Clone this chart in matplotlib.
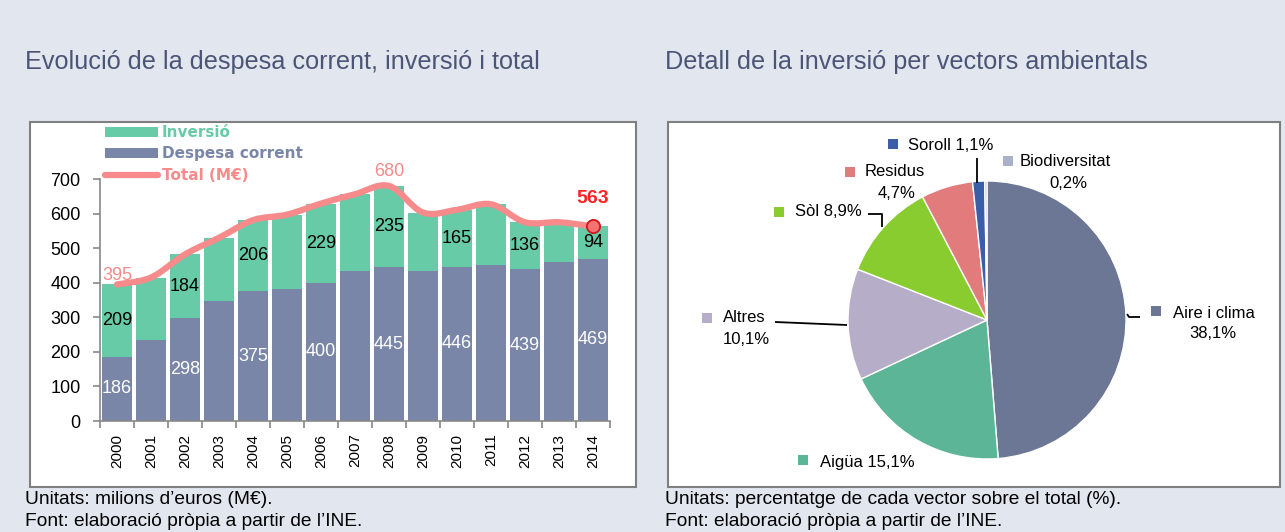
import matplotlib
matplotlib.use("Agg")
import matplotlib.pyplot as plt
from matplotlib.patches import Rectangle, Patch
from matplotlib.lines import Line2D
from matplotlib.path import Path
from matplotlib.patches import PathPatch
import numpy as np

# ---------------- data ----------------
years = ["2000", "2001", "2002", "2003", "2004", "2005", "2006", "2007",
         "2008", "2009", "2010", "2011", "2012", "2013", "2014"]
despesa = [186, 234, 298, 348, 375, 381, 400, 433, 445, 433, 446, 450, 439, 461, 469]
inversio = [209, 181, 184, 182, 206, 216, 229, 223, 235, 170, 165, 177, 136, 114, 94]
total = [395, 415, 482, 530, 581, 597, 629, 656, 680, 603, 611, 627, 575, 575, 563]
label_idx = [0, 2, 4, 6, 8, 10, 12, 14]  # bars with value labels

pie_labels = ["Aire i clima", "Aigüa", "Altres", "Sòl", "Residus", "Soroll", "Biodiversitat"]
pie_values = [38.1, 15.1, 10.1, 8.9, 4.7, 1.1, 0.2]
pie_colors = ["#6c7695", "#5cb597", "#b6aec8", "#89cc2f", "#e27b7b", "#3b5ea9", "#aab0c8"]

# ---------------- style ----------------
W, H = 1285, 532
BG = "#e2e6ef"
TITLE_C = "#4b5576"
C_INV = "#67cba8"
C_DES = "#7a86a8"
C_TOT = "#f78a8a"
FONT = ["Liberation Sans", "DejaVu Sans"]
plt.rcParams["font.family"] = FONT

fig = plt.figure(figsize=(W / 100, H / 100), dpi=100, facecolor=BG)


def fx(px):
    return px / W


def fy(py):
    return 1 - py / H


# white panels
for (x0, x1) in [(30, 636), (668, 1280)]:
    fig.patches.append(Rectangle((fx(x0), fy(487)), fx(x1 - x0), (487 - 122) / H,
                                 transform=fig.transFigure, facecolor="white",
                                 edgecolor="#7f7f7f", linewidth=1.5, zorder=-10))

# titles
fig.text(fx(25), fy(62), "Evolució de la despesa corrent, inversió i total",
         fontsize=18.2, color=TITLE_C, va="center", ha="left")
fig.text(fx(665), fy(62), "Detall de la inversió per vectors ambientals",
         fontsize=18.2, color=TITLE_C, va="center", ha="left")

# footers
for x0, line1 in [(25, "Unitats: milions d’euros (M€)."),
                  (665, "Unitats: percentatge de cada vector sobre el total (%).")]:
    fig.text(fx(x0), fy(500), line1, fontsize=13.8, color="black", va="center", ha="left")
    fig.text(fx(x0), fy(521), "Font: elaboració pròpia a partir de l’INE.",
             fontsize=13.8, color="black", va="center", ha="left")

# ---------------- bar chart ----------------
ax = fig.add_axes([fx(100), fy(421), fx(610 - 100), (421 - 179) / H])
ax.set_facecolor("none")
x = np.arange(len(years))
bw = 0.91
ax.bar(x, despesa, width=bw, color=C_DES, zorder=2)
ax.bar(x, inversio, width=bw, bottom=despesa, color=C_INV, zorder=2)

# smoothed total line (Bezier through the data points)
pts = np.column_stack([x, total]).astype(float)
verts = [tuple(pts[0])]
codes = [Path.MOVETO]
n = len(pts)
for i in range(n - 1):
    p0 = pts[max(i - 1, 0)]
    p1 = pts[i]
    p2 = pts[i + 1]
    p3 = pts[min(i + 2, n - 1)]
    c1 = p1 + (p2 - p0) / 6.0
    c2 = p2 - (p3 - p1) / 6.0
    verts += [tuple(c1), tuple(c2), tuple(p2)]
    codes += [Path.CURVE4] * 3
ax.add_patch(PathPatch(Path(verts, codes), facecolor="none", edgecolor=C_TOT,
                       linewidth=4.5, capstyle="round", joinstyle="round",
                       zorder=3, clip_on=False))
ax.plot([x[-1]], [total[-1]], marker="o", markersize=9.5, markerfacecolor="#f47272",
        markeredgecolor="#d01818", markeredgewidth=1.3, zorder=4, clip_on=False)

for i in label_idx:
    ax.text(x[i], despesa[i] / 2, str(despesa[i]), ha="center", va="center",
            fontsize=13, color="white", zorder=5)
    ax.text(x[i], despesa[i] + inversio[i] / 2, str(inversio[i]), ha="center",
            va="center", fontsize=13, color="black", zorder=5)

ax.text(x[0], total[0] + 27, str(total[0]), ha="center", va="center",
        fontsize=13, color=C_TOT, zorder=5)
ax.text(x[8], total[8] + 42, str(total[8]), ha="center", va="center",
        fontsize=13, color=C_TOT, zorder=5, clip_on=False)
ax.text(x[-1], total[-1] + 80, str(total[-1]), ha="center", va="center",
        fontsize=14, color="#ff2020", fontweight="bold", zorder=5, clip_on=False)

ax.set_xlim(-0.5, len(years) - 0.5)
ax.set_ylim(0, 700)
ax.set_yticks(range(0, 701, 100))
ax.set_xticks(x)
ax.set_xticklabels(years, rotation=90, fontsize=11)
ax.set_xticks(np.arange(-0.5, len(years), 1.0), minor=True)
ax.tick_params(axis="x", which="major", length=0, pad=9, colors="black")
ax.tick_params(axis="x", which="minor", length=5, color="#888888", width=1.2, direction="out")
ax.tick_params(axis="y", length=5, color="#888888", width=1.2, labelsize=13, pad=9)
for s in ["top", "right"]:
    ax.spines[s].set_visible(False)
for s in ["left", "bottom"]:
    ax.spines[s].set_color("#888888")
    ax.spines[s].set_linewidth(1.2)

handles = [Patch(facecolor=C_INV, edgecolor="none"),
           Patch(facecolor=C_DES, edgecolor="none"),
           Line2D([0], [0], color=C_TOT, linewidth=4.5, solid_capstyle="round")]
leg = ax.legend(handles, ["Inversió", "Despesa corrent", "Total (M€)"],
                loc="upper left", bbox_to_anchor=(fx(105), fy(125)),
                bbox_transform=fig.transFigure, frameon=False,
                prop={"family": ["DejaVu Sans"], "size": 11, "weight": "bold"},
                handlelength=3.5, handleheight=0.65, handletextpad=0.2,
                labelspacing=0.42, borderpad=0, borderaxespad=0,
                labelcolor=[C_INV, C_DES, C_TOT])
leg.set_zorder(6)

# ---------------- pie chart ----------------
axp = fig.add_axes([fx(668), fy(487), fx(1280 - 668), (487 - 122) / H])
cx, cy, r = 987, H - 320, 139
axp.pie(pie_values, colors=pie_colors, startangle=90, counterclock=False,
        center=(cx, cy), radius=r, frame=True,
        wedgeprops={"edgecolor": "white", "linewidth": 1.0})
axp.set_xlim(668, 1280)
axp.set_ylim(H - 487, H - 122)
axp.set_aspect("equal")
axp.axis("off")

# label layout: (square x, square y-top, text x, text y, pct x, pct y)
pfs = 12
lab_layout = {
    "Aire i clima": (1151, 306, 1173, 313, 1213, 334),
    "Aigüa": (798, 455, 820, 462, None, None),
    "Altres": (702, 313, 723, 318, 746, 340),
    "Sòl": (774, 207, 795, 212, None, None),
    "Residus": (845, 167, 865, 172, 897, 193),
    "Soroll": (888, 139, 908, 146, None, None),
    "Biodiversitat": (1003, 156, 1020, 161, 1068, 183),
}


def pct(v):
    return ("%.1f" % v).replace(".", ",") + "%"


for lab, val, col in zip(pie_labels, pie_values, pie_colors):
    sx, sy, tx, ty, px2, py2 = lab_layout[lab]
    axp.add_patch(Rectangle((sx, H - sy - 10), 10, 10, facecolor=col, edgecolor="none"))
    if px2 is None:
        axp.text(tx, H - ty, f"{lab} {pct(val)}", fontsize=pfs, va="center", ha="left")
    else:
        axp.text(tx, H - ty, lab, fontsize=pfs, va="center", ha="left")
        axp.text(px2, H - py2, pct(val), fontsize=pfs, va="center", ha="center")

# leader lines
lk = dict(color="black", linewidth=1.3, solid_capstyle="butt")
axp.plot([977, 977], [H - 158, H - 183], **lk)
axp.plot([868, 882, 882], [H - 214, H - 214, H - 227], **lk)
axp.plot([775, 847], [H - 322, H - 325], **lk)
axp.plot([1127, 1129, 1140], [H - 314, H - 317, H - 317], **lk)

fig.savefig("out.png", dpi=100, facecolor=BG)
